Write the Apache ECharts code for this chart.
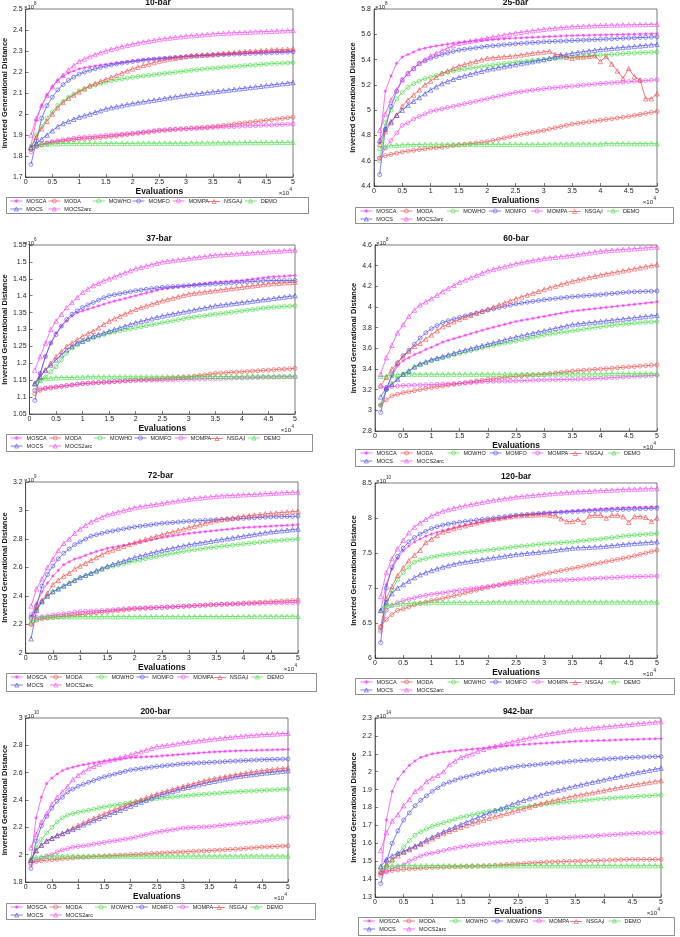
<!DOCTYPE html>
<html><head><meta charset="utf-8">
<script src="https://cdn.jsdelivr.net/npm/echarts@6/dist/echarts.min.js"></script>
<style>html,body{margin:0;padding:0;background:#fff}#c{width:680px;height:937px}</style>
</head><body><div id="c"></div>
<script>
const evals = [1000,2000,3000,4000,5000,6000,7000,8000,9000,10000,11000,12000,13000,14000,15000,16000,17000,18000,19000,20000,21000,22000,23000,24000,25000,26000,27000,28000,29000,30000,31000,32000,33000,34000,35000,36000,37000,38000,39000,40000,41000,42000,43000,44000,45000,46000,47000,48000,49000,50000];
const algorithms = ['MOSCA','MODA','MOWHO','MOMFO','MOMPA','NSGA-II','DEMO','MOCS','MOCS2arc'];
const xTickLabels = ['0','0.5','1','1.5','2','2.5','3','3.5','4','4.5','5'];

// ---- 10-bar (x1e8) ----
const b10_MOSCA = [1.85,1.97,2.04,2.09,2.13,2.16,2.18,2.195,2.205,2.215,2.22,2.225,2.229,2.233,2.236,2.24,2.243,2.246,2.249,2.252,2.255,2.258,2.26,2.263,2.265,2.267,2.269,2.271,2.273,2.275,2.277,2.278,2.28,2.281,2.283,2.284,2.286,2.287,2.289,2.29,2.291,2.292,2.293,2.294,2.295,2.296,2.297,2.298,2.299,2.30];
const b10_MODA = [1.83,1.85,1.855,1.86,1.865,1.868,1.871,1.874,1.877,1.88,1.882,1.884,1.886,1.888,1.89,1.893,1.896,1.899,1.902,1.905,1.908,1.911,1.914,1.917,1.92,1.922,1.924,1.926,1.928,1.93,1.932,1.934,1.936,1.938,1.94,1.943,1.946,1.949,1.952,1.955,1.958,1.961,1.964,1.967,1.97,1.973,1.976,1.979,1.982,1.985];
const b10_MOWHO = [1.84,1.90,1.94,1.98,2.01,2.04,2.06,2.08,2.095,2.11,2.12,2.13,2.138,2.146,2.152,2.158,2.163,2.167,2.171,2.175,2.178,2.181,2.184,2.187,2.19,2.193,2.196,2.199,2.202,2.205,2.208,2.211,2.214,2.216,2.218,2.22,2.222,2.224,2.226,2.228,2.23,2.232,2.234,2.236,2.238,2.24,2.241,2.242,2.243,2.245];
const b10_MOMFO = [1.76,1.87,1.98,2.04,2.08,2.115,2.14,2.16,2.175,2.19,2.20,2.208,2.215,2.222,2.228,2.233,2.238,2.242,2.246,2.25,2.253,2.256,2.259,2.261,2.263,2.265,2.267,2.269,2.271,2.273,2.275,2.276,2.278,2.279,2.28,2.282,2.283,2.284,2.285,2.286,2.287,2.288,2.289,2.29,2.291,2.292,2.293,2.294,2.295,2.296];
const b10_MOMPA = [1.82,1.845,1.855,1.862,1.868,1.873,1.877,1.881,1.885,1.888,1.89,1.892,1.894,1.896,1.898,1.90,1.902,1.904,1.906,1.908,1.911,1.914,1.917,1.92,1.923,1.925,1.927,1.928,1.929,1.93,1.931,1.932,1.933,1.934,1.936,1.937,1.938,1.939,1.94,1.942,1.943,1.944,1.945,1.946,1.947,1.948,1.949,1.95,1.951,1.952];
const b10_NSGAII = [1.84,1.89,1.93,1.965,2.0,2.03,2.055,2.075,2.09,2.105,2.12,2.135,2.145,2.155,2.165,2.175,2.185,2.195,2.205,2.215,2.223,2.231,2.238,2.245,2.252,2.257,2.262,2.266,2.27,2.274,2.277,2.279,2.281,2.283,2.285,2.287,2.289,2.291,2.293,2.295,2.297,2.299,2.30,2.302,2.303,2.305,2.306,2.307,2.308,2.31];
const b10_DEMO = [1.84,1.85,1.855,1.857,1.858,1.859,1.86,1.86,1.86,1.86,1.86,1.86,1.86,1.86,1.86,1.86,1.86,1.86,1.86,1.86,1.861,1.861,1.861,1.861,1.861,1.861,1.861,1.861,1.861,1.861,1.862,1.862,1.862,1.862,1.862,1.863,1.863,1.863,1.863,1.863,1.864,1.864,1.864,1.864,1.864,1.865,1.865,1.865,1.865,1.865];
const b10_MOCS = [1.84,1.86,1.88,1.90,1.92,1.94,1.955,1.965,1.975,1.985,1.992,2.0,2.008,2.016,2.024,2.03,2.035,2.04,2.045,2.05,2.054,2.058,2.062,2.066,2.07,2.074,2.078,2.082,2.086,2.09,2.093,2.096,2.099,2.102,2.105,2.108,2.111,2.114,2.117,2.12,2.123,2.126,2.129,2.132,2.135,2.138,2.141,2.144,2.147,2.15];
const b10_MOCS2arc = [1.90,1.98,2.04,2.09,2.13,2.16,2.185,2.21,2.23,2.25,2.262,2.273,2.283,2.292,2.30,2.308,2.315,2.321,2.327,2.333,2.338,2.343,2.347,2.351,2.355,2.359,2.362,2.365,2.368,2.371,2.373,2.375,2.377,2.379,2.381,2.383,2.384,2.386,2.387,2.388,2.389,2.39,2.391,2.392,2.393,2.394,2.395,2.396,2.397,2.398];

// ---- 25-bar (x1e8) ----
const b25_MOSCA = [4.74,5.15,5.27,5.37,5.42,5.44,5.46,5.48,5.49,5.50,5.508,5.515,5.522,5.529,5.535,5.539,5.543,5.547,5.551,5.555,5.558,5.561,5.564,5.567,5.57,5.572,5.574,5.576,5.578,5.58,5.582,5.584,5.586,5.588,5.59,5.591,5.592,5.593,5.594,5.595,5.596,5.597,5.598,5.599,5.60,5.601,5.602,5.603,5.604,5.605];
const b25_MODA = [4.62,4.64,4.65,4.66,4.67,4.676,4.682,4.688,4.694,4.70,4.703,4.706,4.713,4.719,4.725,4.73,4.735,4.74,4.745,4.75,4.76,4.77,4.78,4.79,4.80,4.808,4.816,4.824,4.832,4.84,4.85,4.86,4.87,4.88,4.89,4.896,4.902,4.908,4.914,4.92,4.926,4.932,4.938,4.944,4.95,4.958,4.966,4.974,4.982,4.99];
const b25_MOWHO = [4.60,4.90,5.00,5.09,5.14,5.18,5.21,5.23,5.25,5.26,5.275,5.29,5.30,5.31,5.32,5.326,5.332,5.338,5.344,5.35,5.356,5.362,5.368,5.374,5.38,5.384,5.388,5.392,5.396,5.40,5.404,5.408,5.412,5.416,5.42,5.423,5.426,5.429,5.432,5.435,5.438,5.441,5.444,5.447,5.45,5.452,5.454,5.456,5.458,5.46];
const b25_MOMFO = [4.49,4.85,5.03,5.15,5.24,5.29,5.33,5.37,5.39,5.41,5.425,5.44,5.452,5.464,5.475,5.481,5.487,5.493,5.499,5.505,5.509,5.513,5.517,5.521,5.525,5.528,5.531,5.534,5.537,5.54,5.542,5.544,5.546,5.548,5.55,5.552,5.554,5.556,5.558,5.56,5.562,5.564,5.566,5.568,5.57,5.572,5.574,5.576,5.578,5.58];
const b25_MOMPA = [4.62,4.70,4.76,4.82,4.88,4.90,4.93,4.95,4.97,4.99,5.0,5.01,5.02,5.03,5.04,5.05,5.06,5.07,5.08,5.09,5.10,5.11,5.12,5.13,5.14,5.146,5.152,5.158,5.164,5.17,5.174,5.178,5.182,5.186,5.19,5.194,5.198,5.202,5.206,5.21,5.213,5.216,5.219,5.222,5.225,5.228,5.231,5.234,5.237,5.24];
const b25_NSGAII = [4.73,4.83,4.90,4.96,5.03,5.08,5.12,5.16,5.20,5.23,5.26,5.29,5.31,5.33,5.35,5.362,5.374,5.386,5.398,5.41,5.414,5.418,5.422,5.426,5.43,5.437,5.444,5.45,5.455,5.46,5.465,5.44,5.44,5.42,5.41,5.42,5.42,5.425,5.43,5.385,5.425,5.365,5.31,5.25,5.33,5.265,5.24,5.09,5.09,5.13];
const b25_DEMO = [4.70,4.71,4.72,4.722,4.725,4.727,4.728,4.729,4.73,4.73,4.73,4.73,4.73,4.73,4.73,4.73,4.73,4.73,4.73,4.73,4.73,4.73,4.73,4.73,4.73,4.73,4.73,4.73,4.73,4.73,4.732,4.732,4.732,4.732,4.732,4.732,4.732,4.732,4.732,4.732,4.735,4.735,4.735,4.735,4.735,4.735,4.735,4.735,4.735,4.735];
const b25_MOCS = [4.76,4.85,4.91,4.96,5.00,5.04,5.07,5.10,5.13,5.16,5.185,5.21,5.227,5.244,5.26,5.272,5.284,5.296,5.308,5.32,5.328,5.336,5.344,5.352,5.36,5.368,5.376,5.384,5.392,5.40,5.41,5.42,5.43,5.44,5.45,5.456,5.462,5.468,5.474,5.48,5.484,5.488,5.492,5.496,5.50,5.504,5.508,5.512,5.516,5.52];
const b25_MOCS2arc = [4.84,4.97,5.08,5.16,5.24,5.29,5.33,5.37,5.40,5.43,5.45,5.47,5.49,5.51,5.53,5.538,5.546,5.554,5.562,5.57,5.578,5.586,5.594,5.602,5.61,5.616,5.622,5.628,5.634,5.64,5.644,5.648,5.652,5.656,5.66,5.662,5.664,5.666,5.668,5.67,5.671,5.672,5.673,5.674,5.675,5.676,5.677,5.678,5.679,5.68];

// ---- 37-bar ----
const b37_MOSCA = [1.14,1.17,1.22,1.26,1.29,1.31,1.325,1.34,1.35,1.355,1.36,1.365,1.37,1.375,1.38,1.384,1.388,1.392,1.396,1.40,1.404,1.408,1.412,1.416,1.42,1.422,1.424,1.426,1.428,1.43,1.432,1.434,1.436,1.438,1.44,1.441,1.442,1.443,1.444,1.445,1.447,1.449,1.451,1.453,1.455,1.456,1.457,1.458,1.459,1.46];
const b37_MODA = [1.11,1.12,1.125,1.127,1.13,1.132,1.134,1.136,1.138,1.14,1.141,1.142,1.143,1.144,1.145,1.146,1.147,1.148,1.149,1.15,1.151,1.152,1.153,1.154,1.155,1.156,1.157,1.158,1.159,1.16,1.162,1.164,1.166,1.168,1.17,1.171,1.172,1.173,1.174,1.175,1.176,1.177,1.178,1.179,1.18,1.181,1.182,1.183,1.184,1.185];
const b37_MOWHO = [1.12,1.15,1.16,1.175,1.19,1.21,1.23,1.245,1.255,1.265,1.27,1.275,1.28,1.285,1.29,1.293,1.296,1.299,1.302,1.305,1.308,1.311,1.314,1.317,1.32,1.323,1.326,1.329,1.332,1.335,1.337,1.339,1.341,1.343,1.345,1.347,1.349,1.351,1.353,1.355,1.357,1.359,1.361,1.363,1.365,1.366,1.367,1.368,1.369,1.37];
const b37_MOMFO = [1.09,1.17,1.22,1.26,1.285,1.31,1.33,1.345,1.355,1.365,1.373,1.38,1.387,1.394,1.40,1.403,1.406,1.409,1.412,1.415,1.417,1.419,1.421,1.423,1.425,1.426,1.427,1.428,1.429,1.43,1.431,1.432,1.433,1.434,1.435,1.436,1.437,1.438,1.439,1.44,1.441,1.442,1.443,1.444,1.445,1.445,1.445,1.445,1.445,1.445];
const b37_MOMPA = [1.12,1.125,1.127,1.129,1.13,1.132,1.134,1.136,1.138,1.14,1.141,1.142,1.143,1.144,1.145,1.146,1.147,1.148,1.149,1.15,1.15,1.15,1.15,1.15,1.15,1.151,1.151,1.152,1.152,1.153,1.153,1.154,1.154,1.155,1.155,1.155,1.156,1.156,1.157,1.157,1.157,1.158,1.158,1.159,1.159,1.159,1.16,1.16,1.16,1.16];
const b37_NSGAII = [1.14,1.16,1.18,1.20,1.22,1.235,1.25,1.26,1.27,1.28,1.288,1.295,1.305,1.315,1.325,1.332,1.339,1.346,1.353,1.36,1.365,1.37,1.375,1.38,1.385,1.389,1.393,1.397,1.401,1.405,1.407,1.409,1.411,1.413,1.415,1.417,1.419,1.421,1.423,1.425,1.427,1.429,1.431,1.433,1.435,1.436,1.437,1.438,1.439,1.44];
const b37_DEMO = [1.14,1.15,1.155,1.156,1.157,1.158,1.158,1.158,1.159,1.159,1.16,1.16,1.16,1.16,1.16,1.16,1.16,1.16,1.16,1.16,1.16,1.16,1.16,1.16,1.16,1.16,1.16,1.16,1.16,1.16,1.161,1.161,1.161,1.161,1.161,1.161,1.161,1.161,1.161,1.161,1.162,1.162,1.162,1.162,1.162,1.162,1.162,1.162,1.162,1.162];
const b37_MOCS = [1.14,1.16,1.18,1.195,1.21,1.225,1.24,1.25,1.26,1.265,1.273,1.28,1.285,1.29,1.295,1.30,1.305,1.31,1.315,1.32,1.324,1.328,1.332,1.336,1.34,1.343,1.346,1.349,1.352,1.355,1.358,1.361,1.364,1.367,1.37,1.372,1.374,1.376,1.378,1.38,1.382,1.384,1.386,1.388,1.39,1.392,1.394,1.396,1.398,1.40];
const b37_MOCS2arc = [1.18,1.22,1.26,1.30,1.325,1.345,1.365,1.38,1.395,1.41,1.42,1.43,1.437,1.444,1.45,1.456,1.462,1.468,1.474,1.48,1.484,1.488,1.492,1.496,1.50,1.502,1.504,1.506,1.508,1.51,1.512,1.514,1.516,1.518,1.52,1.521,1.522,1.523,1.524,1.525,1.526,1.527,1.528,1.529,1.53,1.531,1.532,1.533,1.534,1.535];

// ---- 60-bar ----
const b60_MOSCA = [3.05,3.20,3.33,3.43,3.48,3.51,3.54,3.56,3.59,3.61,3.635,3.66,3.677,3.694,3.71,3.726,3.742,3.758,3.774,3.79,3.804,3.818,3.832,3.846,3.86,3.87,3.88,3.89,3.90,3.91,3.92,3.93,3.94,3.95,3.96,3.966,3.972,3.978,3.984,3.99,3.996,4.002,4.008,4.014,4.02,4.026,4.032,4.038,4.044,4.05];
const b60_MODA = [3.05,3.10,3.14,3.155,3.17,3.18,3.19,3.20,3.21,3.22,3.228,3.235,3.243,3.251,3.26,3.268,3.276,3.284,3.292,3.30,3.306,3.312,3.318,3.324,3.33,3.334,3.338,3.342,3.346,3.35,3.356,3.362,3.368,3.374,3.38,3.384,3.388,3.392,3.396,3.40,3.404,3.408,3.412,3.416,3.42,3.424,3.428,3.432,3.436,3.44];
const b60_MOWHO = [3.05,3.20,3.26,3.31,3.35,3.38,3.42,3.44,3.46,3.48,3.495,3.51,3.523,3.537,3.55,3.564,3.578,3.592,3.606,3.62,3.63,3.64,3.65,3.66,3.67,3.682,3.694,3.706,3.718,3.73,3.738,3.746,3.754,3.762,3.77,3.778,3.786,3.794,3.802,3.81,3.816,3.822,3.828,3.834,3.84,3.844,3.848,3.852,3.856,3.86];
const b60_MOMFO = [2.98,3.20,3.35,3.46,3.53,3.58,3.64,3.70,3.75,3.79,3.82,3.85,3.867,3.884,3.90,3.914,3.928,3.942,3.956,3.97,3.982,3.994,4.006,4.018,4.03,4.038,4.046,4.054,4.062,4.07,4.076,4.082,4.088,4.094,4.10,4.104,4.108,4.112,4.116,4.12,4.125,4.13,4.135,4.14,4.145,4.147,4.149,4.151,4.153,4.155];
const b60_MOMPA = [3.23,3.22,3.23,3.235,3.24,3.242,3.244,3.246,3.248,3.25,3.252,3.254,3.256,3.258,3.26,3.264,3.268,3.272,3.276,3.28,3.281,3.282,3.283,3.284,3.285,3.287,3.289,3.291,3.293,3.295,3.296,3.297,3.298,3.299,3.30,3.302,3.304,3.306,3.308,3.31,3.313,3.316,3.319,3.322,3.325,3.328,3.331,3.334,3.337,3.34];
const b60_NSGAII = [3.24,3.32,3.40,3.46,3.52,3.57,3.62,3.65,3.69,3.73,3.77,3.81,3.833,3.857,3.88,3.90,3.92,3.94,3.96,3.98,4.0,4.02,4.04,4.06,4.08,4.098,4.116,4.134,4.152,4.17,4.186,4.202,4.218,4.234,4.25,4.262,4.274,4.286,4.298,4.31,4.32,4.33,4.34,4.35,4.36,4.37,4.38,4.39,4.40,4.41];
const b60_DEMO = [3.33,3.33,3.34,3.345,3.35,3.35,3.35,3.35,3.35,3.35,3.35,3.35,3.35,3.35,3.35,3.35,3.35,3.35,3.35,3.35,3.35,3.35,3.35,3.35,3.35,3.35,3.35,3.35,3.35,3.35,3.352,3.352,3.352,3.352,3.352,3.352,3.352,3.352,3.352,3.352,3.355,3.355,3.355,3.355,3.355,3.355,3.355,3.355,3.355,3.355];
const b60_MOCS = [3.13,3.22,3.25,3.30,3.35,3.38,3.42,3.45,3.47,3.49,3.505,3.52,3.537,3.553,3.57,3.584,3.598,3.612,3.626,3.64,3.654,3.668,3.682,3.696,3.71,3.722,3.734,3.746,3.758,3.77,3.782,3.794,3.806,3.818,3.83,3.836,3.842,3.848,3.854,3.86,3.866,3.872,3.878,3.884,3.89,3.896,3.902,3.908,3.914,3.92];
const b60_MOCS2arc = [3.35,3.51,3.63,3.75,3.83,3.91,3.97,4.02,4.05,4.08,4.115,4.15,4.18,4.21,4.24,4.262,4.284,4.306,4.328,4.35,4.364,4.378,4.392,4.406,4.42,4.43,4.44,4.45,4.46,4.47,4.476,4.482,4.488,4.494,4.50,4.508,4.516,4.524,4.532,4.54,4.544,4.548,4.552,4.556,4.56,4.564,4.568,4.572,4.576,4.58];

// ---- 72-bar ----
const b72_MOSCA = [2.26,2.35,2.43,2.49,2.54,2.58,2.62,2.64,2.66,2.67,2.685,2.70,2.712,2.724,2.735,2.742,2.749,2.756,2.763,2.77,2.778,2.786,2.794,2.802,2.81,2.816,2.822,2.828,2.834,2.84,2.844,2.848,2.852,2.856,2.86,2.864,2.868,2.872,2.876,2.88,2.882,2.884,2.886,2.888,2.89,2.892,2.894,2.896,2.898,2.90];
const b72_MODA = [2.20,2.23,2.24,2.245,2.25,2.254,2.258,2.262,2.266,2.27,2.274,2.278,2.282,2.286,2.29,2.294,2.298,2.302,2.306,2.31,2.312,2.314,2.316,2.318,2.32,2.322,2.324,2.326,2.328,2.33,2.332,2.334,2.336,2.338,2.34,2.342,2.344,2.346,2.348,2.35,2.352,2.354,2.356,2.358,2.36,2.362,2.364,2.366,2.368,2.37];
const b72_MOWHO = [2.24,2.30,2.36,2.40,2.43,2.45,2.47,2.49,2.51,2.53,2.543,2.555,2.57,2.585,2.60,2.609,2.618,2.627,2.636,2.645,2.653,2.661,2.669,2.677,2.685,2.692,2.699,2.706,2.713,2.72,2.725,2.73,2.735,2.74,2.745,2.749,2.753,2.757,2.761,2.765,2.769,2.773,2.777,2.781,2.785,2.788,2.791,2.794,2.797,2.80];
const b72_MOMFO = [2.25,2.33,2.47,2.55,2.61,2.66,2.70,2.73,2.76,2.78,2.80,2.82,2.83,2.84,2.85,2.857,2.864,2.871,2.878,2.885,2.89,2.895,2.90,2.905,2.91,2.913,2.916,2.919,2.922,2.925,2.927,2.929,2.931,2.933,2.935,2.937,2.939,2.941,2.943,2.945,2.947,2.949,2.951,2.953,2.955,2.956,2.957,2.958,2.959,2.96];
const b72_MOMPA = [2.27,2.25,2.255,2.26,2.265,2.27,2.275,2.28,2.285,2.29,2.292,2.294,2.296,2.298,2.30,2.303,2.306,2.309,2.312,2.315,2.316,2.317,2.318,2.319,2.32,2.322,2.324,2.326,2.328,2.33,2.332,2.334,2.336,2.338,2.34,2.341,2.342,2.343,2.344,2.345,2.346,2.347,2.348,2.349,2.35,2.351,2.352,2.353,2.354,2.355];
const b72_NSGAII = [2.21,2.32,2.37,2.42,2.48,2.51,2.54,2.56,2.59,2.61,2.63,2.65,2.67,2.69,2.71,2.723,2.736,2.749,2.762,2.775,2.786,2.797,2.808,2.819,2.83,2.84,2.85,2.86,2.87,2.88,2.89,2.90,2.91,2.92,2.93,2.936,2.942,2.948,2.954,2.96,2.964,2.968,2.972,2.976,2.98,2.983,2.986,2.989,2.992,2.995];
const b72_DEMO = [2.22,2.24,2.25,2.252,2.254,2.255,2.255,2.255,2.255,2.255,2.255,2.255,2.255,2.255,2.255,2.255,2.255,2.255,2.255,2.255,2.255,2.255,2.255,2.255,2.255,2.255,2.255,2.255,2.255,2.255,2.256,2.256,2.256,2.256,2.256,2.256,2.256,2.256,2.256,2.256,2.258,2.258,2.258,2.258,2.258,2.258,2.258,2.258,2.258,2.258];
const b72_MOCS = [2.10,2.30,2.36,2.40,2.43,2.45,2.47,2.49,2.51,2.53,2.545,2.56,2.577,2.593,2.61,2.622,2.634,2.646,2.658,2.67,2.68,2.69,2.70,2.71,2.72,2.728,2.736,2.744,2.752,2.76,2.766,2.772,2.778,2.784,2.79,2.796,2.802,2.808,2.814,2.82,2.826,2.832,2.838,2.844,2.85,2.854,2.858,2.862,2.866,2.87];
const b72_MOCS2arc = [2.33,2.45,2.52,2.60,2.66,2.72,2.77,2.80,2.84,2.87,2.895,2.92,2.937,2.954,2.97,2.98,2.99,3.0,3.01,3.02,3.026,3.032,3.038,3.044,3.05,3.056,3.062,3.068,3.074,3.08,3.084,3.088,3.092,3.096,3.10,3.102,3.104,3.106,3.108,3.11,3.112,3.114,3.116,3.118,3.12,3.122,3.124,3.126,3.128,3.13];

// ---- 120-bar (x1e10) ----
const b120_MOSCA = [6.68,7.05,7.27,7.42,7.53,7.60,7.66,7.70,7.74,7.77,7.795,7.82,7.84,7.86,7.88,7.896,7.912,7.928,7.944,7.96,7.974,7.988,8.002,8.016,8.03,8.038,8.046,8.054,8.062,8.07,8.076,8.082,8.088,8.094,8.10,8.106,8.112,8.118,8.124,8.13,8.134,8.138,8.142,8.146,8.15,8.152,8.154,8.156,8.158,8.16];
const b120_MODA = [6.45,6.55,6.62,6.68,6.70,6.73,6.76,6.78,6.80,6.82,6.835,6.85,6.87,6.89,6.91,6.93,6.95,6.97,6.99,7.01,7.028,7.046,7.064,7.082,7.10,7.12,7.14,7.16,7.18,7.20,7.216,7.232,7.248,7.264,7.28,7.296,7.312,7.328,7.344,7.36,7.376,7.392,7.408,7.424,7.44,7.46,7.48,7.50,7.52,7.54];
const b120_MOWHO = [6.40,6.75,6.97,7.12,7.22,7.30,7.37,7.40,7.42,7.44,7.455,7.47,7.48,7.49,7.50,7.508,7.516,7.524,7.532,7.54,7.55,7.56,7.57,7.58,7.59,7.598,7.606,7.614,7.622,7.63,7.636,7.642,7.648,7.654,7.66,7.668,7.676,7.684,7.692,7.70,7.71,7.72,7.73,7.74,7.75,7.756,7.762,7.768,7.774,7.78];
const b120_MOMFO = [6.22,7.00,7.30,7.45,7.57,7.66,7.72,7.77,7.81,7.85,7.875,7.90,7.913,7.927,7.94,7.95,7.96,7.97,7.98,7.99,8.0,8.01,8.02,8.03,8.04,8.046,8.052,8.058,8.064,8.07,8.074,8.078,8.082,8.086,8.09,8.094,8.098,8.102,8.106,8.11,8.113,8.116,8.119,8.122,8.125,8.128,8.131,8.134,8.137,8.14];
const b120_MOMPA = [6.38,6.68,6.75,6.79,6.82,6.84,6.86,6.88,6.895,6.91,6.92,6.93,6.943,6.957,6.97,6.98,6.99,7.0,7.01,7.02,7.03,7.04,7.05,7.06,7.07,7.076,7.082,7.088,7.094,7.10,7.104,7.108,7.112,7.116,7.12,7.124,7.128,7.132,7.136,7.14,7.144,7.148,7.152,7.156,7.16,7.162,7.164,7.166,7.168,7.17];
const b120_NSGAII = [6.45,6.85,7.02,7.18,7.29,7.39,7.47,7.54,7.65,7.70,7.75,7.80,7.825,7.85,7.87,7.89,7.91,7.93,7.95,7.97,7.982,7.994,8.006,8.018,8.03,8.034,8.038,8.042,8.046,8.05,8.04,8.03,7.99,7.95,7.95,7.98,7.94,8.03,8.04,8.04,8.00,8.04,8.04,8.02,7.94,8.02,8.02,8.01,7.95,8.00];
const b120_DEMO = [6.68,6.74,6.76,6.77,6.775,6.78,6.785,6.79,6.79,6.795,6.795,6.795,6.795,6.795,6.795,6.795,6.795,6.795,6.795,6.795,6.80,6.80,6.80,6.80,6.80,6.80,6.80,6.80,6.80,6.80,6.80,6.80,6.80,6.80,6.80,6.80,6.80,6.80,6.80,6.80,6.80,6.80,6.80,6.80,6.80,6.80,6.80,6.80,6.80,6.80];
const b120_MOCS = [6.68,6.80,6.92,7.00,7.05,7.10,7.15,7.19,7.22,7.25,7.275,7.30,7.32,7.34,7.36,7.372,7.384,7.396,7.408,7.42,7.432,7.444,7.456,7.468,7.48,7.488,7.496,7.504,7.512,7.52,7.53,7.54,7.55,7.56,7.57,7.574,7.578,7.582,7.586,7.59,7.598,7.606,7.614,7.622,7.63,7.636,7.642,7.648,7.654,7.66];
const b120_MOCS2arc = [6.88,7.22,7.42,7.56,7.68,7.79,7.87,7.93,7.98,8.03,8.065,8.10,8.12,8.14,8.16,8.176,8.192,8.208,8.224,8.24,8.252,8.264,8.276,8.288,8.30,8.308,8.316,8.324,8.332,8.34,8.346,8.352,8.358,8.364,8.37,8.374,8.378,8.382,8.386,8.39,8.394,8.398,8.402,8.406,8.41,8.412,8.414,8.416,8.418,8.42];

// ---- 200-bar ----
const b200_MOSCA = [1.96,2.27,2.42,2.52,2.56,2.59,2.615,2.63,2.64,2.65,2.658,2.665,2.672,2.679,2.685,2.69,2.695,2.70,2.705,2.71,2.712,2.714,2.716,2.718,2.72,2.723,2.726,2.729,2.732,2.735,2.738,2.741,2.744,2.747,2.75,2.752,2.754,2.756,2.758,2.76,2.761,2.762,2.763,2.764,2.765,2.766,2.767,2.768,2.769,2.77];
const b200_MODA = [1.94,1.95,1.955,1.96,1.963,1.966,1.97,1.973,1.976,1.98,1.982,1.984,1.986,1.988,1.99,1.992,1.994,1.996,1.998,2.0,2.002,2.004,2.006,2.008,2.01,2.012,2.014,2.016,2.018,2.02,2.022,2.024,2.026,2.028,2.03,2.032,2.034,2.036,2.038,2.04,2.043,2.046,2.049,2.052,2.055,2.057,2.059,2.061,2.063,2.065];
const b200_MOWHO = [1.96,2.05,2.11,2.16,2.20,2.24,2.27,2.29,2.30,2.31,2.318,2.325,2.333,2.342,2.35,2.356,2.362,2.368,2.374,2.38,2.386,2.392,2.398,2.404,2.41,2.414,2.418,2.422,2.426,2.43,2.433,2.436,2.439,2.442,2.445,2.448,2.451,2.454,2.457,2.46,2.462,2.464,2.466,2.468,2.47,2.472,2.474,2.476,2.478,2.48];
const b200_MOMFO = [1.90,2.10,2.21,2.28,2.34,2.39,2.42,2.46,2.48,2.50,2.515,2.53,2.543,2.557,2.57,2.58,2.59,2.60,2.61,2.62,2.625,2.63,2.635,2.64,2.645,2.649,2.653,2.657,2.661,2.665,2.667,2.669,2.671,2.673,2.675,2.677,2.679,2.681,2.683,2.685,2.687,2.689,2.691,2.693,2.695,2.696,2.697,2.698,2.699,2.70];
const b200_MOMPA = [1.93,1.96,1.975,1.99,2.0,2.02,2.035,2.045,2.055,2.06,2.065,2.07,2.077,2.083,2.09,2.096,2.102,2.108,2.114,2.12,2.129,2.138,2.147,2.156,2.165,2.171,2.177,2.183,2.189,2.195,2.197,2.199,2.201,2.203,2.205,2.209,2.213,2.217,2.221,2.225,2.229,2.233,2.237,2.241,2.245,2.251,2.257,2.263,2.269,2.275];
const b200_NSGAII = [1.96,2.03,2.07,2.10,2.12,2.14,2.155,2.175,2.195,2.215,2.233,2.25,2.267,2.283,2.30,2.315,2.33,2.345,2.36,2.375,2.389,2.403,2.417,2.431,2.445,2.456,2.467,2.478,2.489,2.50,2.51,2.52,2.53,2.54,2.55,2.557,2.564,2.571,2.578,2.585,2.591,2.597,2.603,2.609,2.615,2.619,2.623,2.627,2.631,2.635];
const b200_DEMO = [1.97,1.98,1.985,1.988,1.99,1.99,1.99,1.99,1.99,1.99,1.99,1.99,1.99,1.99,1.99,1.99,1.99,1.99,1.99,1.99,1.99,1.99,1.99,1.99,1.99,1.99,1.99,1.99,1.99,1.99,1.99,1.99,1.99,1.99,1.99,1.99,1.99,1.99,1.99,1.99,1.99,1.99,1.99,1.99,1.99,1.99,1.99,1.99,1.99,1.99];
const b200_MOCS = [1.96,2.03,2.07,2.10,2.12,2.14,2.155,2.17,2.185,2.20,2.218,2.235,2.25,2.265,2.28,2.295,2.31,2.325,2.34,2.355,2.37,2.385,2.40,2.415,2.43,2.441,2.452,2.463,2.474,2.485,2.494,2.503,2.512,2.521,2.53,2.538,2.546,2.554,2.562,2.57,2.575,2.58,2.585,2.59,2.595,2.599,2.603,2.607,2.611,2.615];
const b200_MOCS2arc = [2.05,2.15,2.24,2.30,2.37,2.42,2.46,2.50,2.55,2.58,2.605,2.63,2.647,2.663,2.68,2.69,2.70,2.71,2.72,2.73,2.742,2.754,2.766,2.778,2.79,2.795,2.80,2.806,2.812,2.818,2.823,2.828,2.833,2.838,2.843,2.847,2.851,2.855,2.859,2.863,2.866,2.869,2.872,2.875,2.878,2.88,2.882,2.884,2.886,2.888];

// ---- 942-bar (x1e14) ----
const b942_MOSCA = [1.43,1.73,1.89,1.96,2.0,2.035,2.06,2.08,2.09,2.10,2.105,2.11,2.113,2.117,2.12,2.123,2.126,2.129,2.132,2.135,2.138,2.141,2.144,2.147,2.15,2.152,2.154,2.156,2.158,2.16,2.162,2.164,2.166,2.168,2.17,2.171,2.172,2.173,2.174,2.175,2.176,2.177,2.178,2.179,2.18,2.181,2.182,2.183,2.184,2.185];
const b942_MODA = [1.44,1.445,1.448,1.451,1.455,1.457,1.459,1.461,1.463,1.465,1.466,1.467,1.468,1.469,1.47,1.471,1.472,1.473,1.474,1.475,1.477,1.479,1.481,1.483,1.485,1.487,1.489,1.491,1.493,1.495,1.496,1.497,1.498,1.499,1.50,1.501,1.502,1.503,1.504,1.505,1.506,1.507,1.508,1.509,1.51,1.51,1.51,1.51,1.51,1.51];
const b942_MOWHO = [1.43,1.47,1.50,1.54,1.58,1.615,1.645,1.665,1.68,1.695,1.705,1.715,1.725,1.735,1.745,1.752,1.759,1.766,1.773,1.78,1.784,1.788,1.792,1.796,1.80,1.804,1.808,1.812,1.816,1.82,1.823,1.826,1.829,1.832,1.835,1.838,1.841,1.844,1.847,1.85,1.852,1.854,1.856,1.858,1.86,1.862,1.864,1.866,1.868,1.87];
const b942_MOMFO = [1.375,1.50,1.60,1.67,1.73,1.77,1.81,1.84,1.865,1.89,1.91,1.93,1.942,1.953,1.965,1.973,1.981,1.989,1.997,2.005,2.01,2.015,2.02,2.025,2.03,2.033,2.036,2.039,2.042,2.045,2.048,2.051,2.054,2.057,2.06,2.062,2.064,2.066,2.068,2.07,2.072,2.074,2.076,2.078,2.08,2.081,2.082,2.083,2.084,2.085];
const b942_MOMPA = [1.42,1.44,1.46,1.47,1.48,1.50,1.515,1.53,1.54,1.545,1.553,1.56,1.567,1.573,1.58,1.584,1.588,1.592,1.596,1.60,1.603,1.606,1.609,1.612,1.615,1.617,1.619,1.621,1.623,1.625,1.627,1.629,1.631,1.633,1.635,1.637,1.639,1.641,1.643,1.645,1.647,1.649,1.651,1.653,1.655,1.656,1.657,1.658,1.659,1.66];
const b942_NSGAII = [1.44,1.48,1.51,1.53,1.55,1.565,1.58,1.595,1.61,1.625,1.64,1.655,1.667,1.678,1.69,1.70,1.71,1.72,1.73,1.74,1.749,1.758,1.767,1.776,1.785,1.794,1.803,1.812,1.821,1.83,1.837,1.844,1.851,1.858,1.865,1.871,1.877,1.883,1.889,1.895,1.901,1.907,1.913,1.919,1.925,1.93,1.935,1.94,1.945,1.95];
const b942_DEMO = [1.47,1.472,1.473,1.474,1.475,1.475,1.475,1.475,1.475,1.475,1.475,1.475,1.475,1.475,1.475,1.475,1.475,1.475,1.475,1.475,1.475,1.475,1.475,1.475,1.475,1.475,1.475,1.475,1.475,1.475,1.475,1.475,1.475,1.475,1.475,1.475,1.475,1.475,1.475,1.475,1.475,1.475,1.475,1.475,1.475,1.475,1.475,1.475,1.475,1.475];
const b942_MOCS = [1.47,1.51,1.53,1.545,1.555,1.57,1.585,1.60,1.62,1.635,1.65,1.665,1.678,1.692,1.705,1.718,1.731,1.744,1.757,1.77,1.782,1.794,1.806,1.818,1.83,1.84,1.85,1.86,1.87,1.88,1.888,1.896,1.904,1.912,1.92,1.927,1.934,1.941,1.948,1.955,1.962,1.969,1.976,1.983,1.99,1.996,2.002,2.008,2.014,2.02];
const b942_MOCS2arc = [1.56,1.66,1.725,1.76,1.81,1.845,1.89,1.91,1.945,1.965,1.98,2.0,2.04,2.06,2.08,2.09,2.10,2.115,2.125,2.135,2.143,2.151,2.159,2.167,2.175,2.182,2.189,2.196,2.203,2.21,2.215,2.22,2.225,2.23,2.235,2.238,2.241,2.244,2.247,2.25,2.253,2.256,2.259,2.262,2.265,2.268,2.271,2.274,2.277,2.28];

// ---- panel layout (positions only) ----
const panels = [
  {title:'10-bar', exp:'8', L:23,T:9,R:293,B:177, min:1.7,max:2.5,step:0.1, box:[6,197,308,213],
   d:[b10_MOSCA,b10_MODA,b10_MOWHO,b10_MOMFO,b10_MOMPA,b10_NSGAII,b10_DEMO,b10_MOCS,b10_MOCS2arc]},
  {title:'25-bar', exp:'8', L:374,T:9,R:657,B:186, min:4.4,max:5.8,step:0.2, box:[355,207,673,223],
   d:[b25_MOSCA,b25_MODA,b25_MOWHO,b25_MOMFO,b25_MOMPA,b25_NSGAII,b25_DEMO,b25_MOCS,b25_MOCS2arc]},
  {title:'37-bar', exp:'6', L:23,T:245,R:295,B:414, min:1.05,max:1.55,step:0.05, box:[6,434,312,451],
   d:[b37_MOSCA,b37_MODA,b37_MOWHO,b37_MOMFO,b37_MOMPA,b37_NSGAII,b37_DEMO,b37_MOCS,b37_MOCS2arc]},
  {title:'60-bar', exp:'8', L:375,T:245,R:657,B:431, min:2.8,max:4.6,step:0.2, box:[355,449,674,466],
   d:[b60_MOSCA,b60_MODA,b60_MOWHO,b60_MOMFO,b60_MOMPA,b60_NSGAII,b60_DEMO,b60_MOCS,b60_MOCS2arc]},
  {title:'72-bar', exp:'9', L:23,T:482,R:298,B:653, min:2,max:3.2,step:0.2, box:[6,673,316,691],
   d:[b72_MOSCA,b72_MODA,b72_MOWHO,b72_MOMFO,b72_MOMPA,b72_NSGAII,b72_DEMO,b72_MOCS,b72_MOCS2arc]},
  {title:'120-bar', exp:'10', L:375,T:483,R:657,B:658, min:6,max:8.5,step:0.5, box:[355,678,674,694],
   d:[b120_MOSCA,b120_MODA,b120_MOWHO,b120_MOMFO,b120_MOMPA,b120_NSGAII,b120_DEMO,b120_MOCS,b120_MOCS2arc]},
  {title:'200-bar', exp:'10', L:23,T:718,R:288,B:882, min:1.8,max:3,step:0.2, box:[6,903,315,919],
   d:[b200_MOSCA,b200_MODA,b200_MOWHO,b200_MOMFO,b200_MOMPA,b200_NSGAII,b200_DEMO,b200_MOCS,b200_MOCS2arc]},
  {title:'942-bar', exp:'14', L:375,T:718,R:661,B:897, min:1.3,max:2.3,step:0.1, box:[358,917,674,935],
   d:[b942_MOSCA,b942_MODA,b942_MOWHO,b942_MOMFO,b942_MOMPA,b942_NSGAII,b942_DEMO,b942_MOCS,b942_MOCS2arc]}
];

const MAG='#f23ef2', RED='#f04848', GRN='#3ddc3d', BLU='#4646ef';
const STAR='path://M5 0L5 10M0 5L10 5M1.5 1.5L8.5 8.5M8.5 1.5L1.5 8.5';
const styles = [
  {c:MAG, s:STAR, z:3.2},
  {c:RED, s:'circle', z:4.2},
  {c:GRN, s:'circle', z:4.2},
  {c:BLU, s:'circle', z:4.2},
  {c:MAG, s:'circle', z:4.2},
  {c:RED, s:'triangle', z:4.6},
  {c:GRN, s:'triangle', z:4.6},
  {c:BLU, s:'triangle', z:4.6},
  {c:MAG, s:'triangle', z:4.6}
];
const legendCols = [['MOSCA','MOCS'],['MODA','MOCS2arc'],['MOWHO'],['MOMFO'],['MOMPA'],['NSGA-II'],['DEMO']];
const colFrac = [0.066,0.192,0.339,0.471,0.603,0.721,0.842];
const FONT = '"Liberation Sans", Arial, sans-serif';
const TXT = '#262626';

function legendItem(name){
  const st = styles[algorithms.indexOf(name)];
  return {name:name,
    itemStyle:{color:'rgba(255,255,255,0)', borderColor:st.c, borderWidth:0.6},
    lineStyle:{color:st.c, width:0.7}};
}

const grid=[], xAxis=[], yAxis=[], series=[], legend=[], graphic=[];
panels.forEach((p,i)=>{
  grid.push({left:p.L, top:p.T, width:p.R-p.L, height:p.B-p.T, show:true, borderColor:TXT, borderWidth:0.6, backgroundColor:'#fff'});
  xAxis.push({type:'value', gridIndex:i, min:0, max:50000, interval:5000,
    name:'Evaluations', nameLocation:'middle', nameGap:10,
    nameTextStyle:{fontFamily:FONT, fontSize:8.5, fontWeight:'bold', color:'#111'},
    axisLine:{lineStyle:{color:TXT, width:0.6}},
    axisTick:{inside:true, length:3, lineStyle:{color:TXT, width:0.6}},
    axisLabel:{fontFamily:FONT, fontSize:7, color:TXT, margin:2, formatter:(v)=>xTickLabels[Math.round(v/5000)]},
    splitLine:{show:false}});
  yAxis.push({type:'value', gridIndex:i, min:p.min, max:p.max, interval:p.step,
    name:'Inverted Generational Distance', nameLocation:'middle', nameGap:12,
    nameTextStyle:{fontFamily:FONT, fontSize:7.5, fontWeight:'bold', color:'#111'},
    axisLine:{lineStyle:{color:TXT, width:0.6}},
    axisTick:{inside:true, length:3, lineStyle:{color:TXT, width:0.6}},
    axisLabel:{fontFamily:FONT, fontSize:7, color:TXT, margin:3, formatter:(v)=>String(+v.toFixed(2))},
    splitLine:{show:false}});
  algorithms.forEach((name,k)=>{
    const st = styles[k];
    series.push({type:'line', name:name, xAxisIndex:i, yAxisIndex:i,
      data: evals.map((x,j)=>[x, p.d[k][j]]),
      symbol: st.s, symbolSize: st.s===STAR?3.5:(st.s==='triangle'?4.5:4),
      showSymbol:true, showAllSymbol:true, silent:true, animation:false, z:st.z,
      lineStyle:{color:st.c, width:0.7},
      itemStyle:{color:'rgba(255,255,255,0)', borderColor:st.c, borderWidth:0.6},
      emphasis:{disabled:true}});
  });
  graphic.push({type:'text', x:(p.L+p.R)/2, y:p.T-6, silent:true,
    style:{text:p.title, font:'bold 8.5px '+FONT, fill:'#111', align:'center', verticalAlign:'middle', textAlign:'center', textVerticalAlign:'middle'}});
  graphic.push({type:'text', x:p.L+1, y:p.T-2, silent:true,
    style:{text:'\u00d710', font:'6px '+FONT, fill:TXT, align:'left', verticalAlign:'middle', textAlign:'left', textVerticalAlign:'middle'}});
  graphic.push({type:'text', x:p.L+11, y:p.T-5, silent:true,
    style:{text:p.exp, font:'4.5px '+FONT, fill:TXT, align:'left', verticalAlign:'middle', textAlign:'left', textVerticalAlign:'middle'}});
  graphic.push({type:'text', x:p.R-4, y:p.B+16, silent:true,
    style:{text:'\u00d710', font:'6px '+FONT, fill:TXT, align:'right', verticalAlign:'middle', textAlign:'right', textVerticalAlign:'middle'}});
  graphic.push({type:'text', x:p.R-3.5, y:p.B+13, silent:true,
    style:{text:'4', font:'4.5px '+FONT, fill:TXT, align:'left', verticalAlign:'middle', textAlign:'left', textVerticalAlign:'middle'}});
  const bx=p.box;
  graphic.push({type:'rect', silent:true, z:-1, shape:{x:bx[0]+0.5, y:bx[1]+0.5, width:bx[2]-bx[0], height:bx[3]-bx[1]},
    style:{fill:'#fff', stroke:'#444', lineWidth:0.6}});
  const bw = bx[2]-bx[0];
  legendCols.forEach((col,c)=>{
    legend.push({orient:'vertical', left: bx[0] + colFrac[c]*bw - 16, top: bx[1]+1,
      data: col.map(legendItem), itemWidth:12, itemHeight:5, itemGap:2, padding:0, selectedMode:false,
      textStyle:{fontFamily:FONT, fontSize:5.5, lineHeight:6, color:'#222', padding:[0,0,0,-1],
        rich:{sub:{fontFamily:FONT, fontSize:4, lineHeight:6, color:'#222', padding:[3,0,0,0]}}},
      formatter:(n)=> n==='NSGA-II' ? 'NSGA{sub|I}I' : n});
  });
});

const chart = echarts.init(document.getElementById('c'), null, {renderer:'canvas'});
chart.setOption({animation:false, backgroundColor:'#fff', grid, xAxis, yAxis, series, legend, graphic});
</script>
</body></html>
